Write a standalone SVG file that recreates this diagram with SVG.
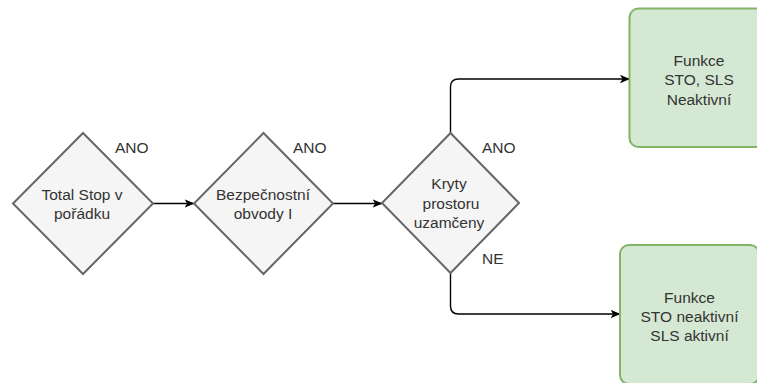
<svg xmlns="http://www.w3.org/2000/svg" width="757" height="383" viewBox="0 0 757 383">
  <style>
    text { font-family: "Liberation Sans", Arial, Helvetica, sans-serif; font-size: 15.5px; fill: #333333; }
    .c { text-anchor: middle; }
    .decision { fill: #f5f5f5; stroke: #666666; stroke-width: 2; }
    .result { fill: #d5e8d4; stroke: #82b366; stroke-width: 2; }
    .edge { fill: none; stroke: #000000; stroke-width: 1.4; marker-end: url(#arrow); }
  </style>
  <defs>
    <marker id="arrow" viewBox="0 0 10 10" refX="9.5" refY="5" markerWidth="10" markerHeight="10" markerUnits="userSpaceOnUse" orient="auto">
      <path d="M0,0.8 L10,5 L0,9.2 L2.6,5 Z" fill="#000000"/>
    </marker>
  </defs>
  <rect width="757" height="383" fill="#ffffff"/>

  <g id="edges">
    <path class="edge" d="M153,203.5 L194,203.5"/>
    <path class="edge" d="M333,203.5 L382,203.5"/>
    <path class="edge" d="M450.5,133 L450.5,87 Q450.5,79 458.5,79 L629.5,79"/>
    <path class="edge" d="M450.5,273 L450.5,306 Q450.5,314 458.5,314 L620,314"/>
  </g>

  <g id="total-stop">
    <polygon class="decision" points="83,133 153,203.5 83,274 13,203.5"/>
    <text class="c" x="82" y="200">Total Stop v</text>
    <text class="c" x="82" y="219">pořádku</text>
    <text x="115" y="152.5">ANO</text>
  </g>

  <g id="bezpecnostni-obvody">
    <polygon class="decision" points="263.5,133 333,203.5 263.5,274 194,203.5"/>
    <text class="c" x="263" y="200">Bezpečnostní</text>
    <text class="c" x="263" y="219">obvody I</text>
    <text x="293" y="152.5">ANO</text>
  </g>

  <g id="kryty-prostoru">
    <polygon class="decision" points="450.5,133 519,203 450.5,273 382,203"/>
    <text class="c" x="449" y="189">Kryty</text>
    <text class="c" x="451" y="208.5">prostoru</text>
    <text class="c" x="449" y="228">uzamčeny</text>
    <text x="482" y="152.5">ANO</text>
    <text x="482" y="263.5">NE</text>
  </g>

  <g id="funkce-neaktivni">
    <rect class="result" x="629.5" y="8.5" width="139" height="138.5" rx="9" ry="9"/>
    <text class="c" x="699" y="65.5">Funkce</text>
    <text class="c" x="699" y="85">STO, SLS</text>
    <text class="c" x="699" y="104.5">Neaktivní</text>
  </g>

  <g id="sls-aktivni">
    <rect class="result" x="620" y="245" width="139" height="139" rx="9" ry="9"/>
    <text class="c" x="689.5" y="302.5">Funkce</text>
    <text class="c" x="689.5" y="322">STO neaktivní</text>
    <text class="c" x="689.5" y="341">SLS aktivní</text>
  </g>
</svg>
